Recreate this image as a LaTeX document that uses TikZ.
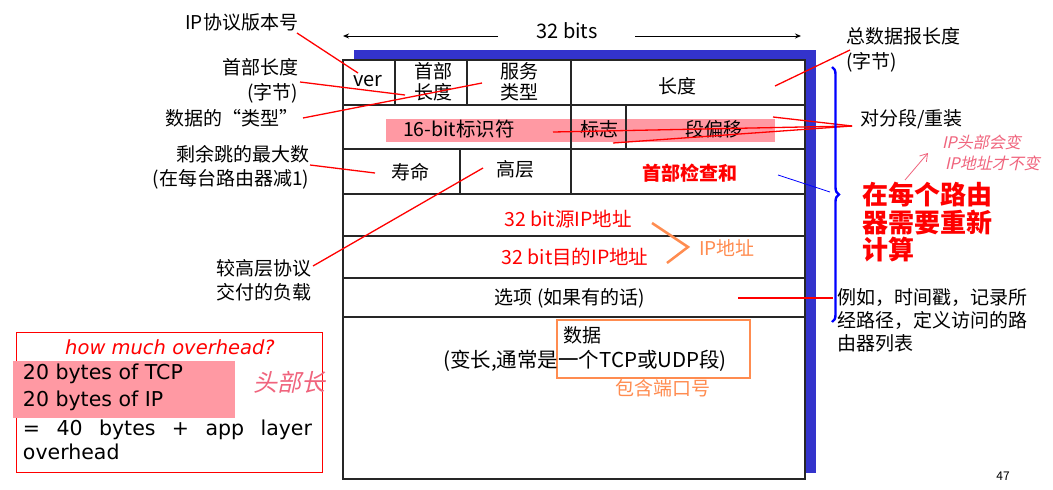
\documentclass[tikz,border=0pt]{standalone}
\usepackage{fontspec}
\setmainfont{Noto Sans CJK SC}
\newfontfamily\slantfont[FakeSlant=0.22]{Noto Sans CJK SC}
\newfontfamily\latinfont{DejaVu Sans}
\usetikzlibrary{decorations.pathreplacing,arrows.meta}

\definecolor{shadowblue}{RGB}{51,51,204}
\definecolor{hlpink}{RGB}{255,153,163}
\definecolor{tagorange}{RGB}{255,140,80}
\definecolor{inkpink}{RGB}{240,100,125}
\definecolor{bracecol}{RGB}{0,0,255}

\begin{document}
\begin{tikzpicture}[x=1pt,y=-1pt,
  every node/.style={inner sep=0pt, outer sep=0pt},
  lbl/.style={font=\fontsize{19}{25}\selectfont, text=black},
  cell/.style={font=\fontsize{19}{22}\selectfont, text=black},
  redcell/.style={font=\fontsize{19.5}{22}\selectfont, text=red},
  grid/.style={line width=1.5pt, black!85},
  pointer/.style={red, line width=1.3pt},
  ink/.style={text=inkpink, font=\slantfont\fontsize{16}{21}\selectfont},
  engl/.style={font=\latinfont\fontsize{20.5}{24}\selectfont, text=black, anchor=west},
]
\useasboundingbox (0,0) rectangle (1053,490);
\fill[white] (0,0) rectangle (1053,490);

% ---------- 32 bits width marker ----------
\node[font=\fontsize{20}{24}\selectfont] (bits) at (567,31) {32 bits};
\coordinate (bitsL1) at (498,36); \coordinate (bitsL2) at (343,36);
\coordinate (bitsR1) at (635,36); \coordinate (bitsR2) at (801,36);
\draw[line width=1pt, -{Stealth[length=6pt,width=5pt]}] (bitsL1) -- (bitsL2);
\draw[line width=1pt, -{Stealth[length=6pt,width=5pt]}] (bitsR1) -- (bitsR2);

% ---------- header table with its blue shadow ----------
\fill[shadowblue] (354,50) rectangle (816,473);
\fill[white] (343,60) rectangle (805,479);
\fill[hlpink] (386,119) rectangle (775,142);
\draw[grid] (343,60) rectangle (805,479);
\draw[grid] (343,105) -- (805,105);
\draw[grid] (343,149) -- (805,149);
\draw[grid] (343,194) -- (805,194);
\draw[grid] (343,236) -- (805,236);
\draw[grid] (343,278) -- (805,278);
\draw[grid] (343,317) -- (805,317);
\draw[grid] (395,60) -- (395,105);
\draw[grid] (467,60) -- (467,105);
\draw[grid] (571,60) -- (571,194);
\draw[grid] (626,105) -- (626,149);
\draw[grid] (460,149) -- (460,194);

% row 1
\node[cell, font=\fontsize{20}{22}\selectfont] (ver) at (368,81) {ver};
\node[cell, align=center, font=\fontsize{19}{21}\selectfont] (hlen) at (433,82) {首部\\长度};
\node[cell, align=center, font=\fontsize{19}{21}\selectfont] (tos) at (519,82) {服务\\类型};
\node[cell] (len) at (677,86) {长度};
% row 2
\node[cell, font=\fontsize{19.5}{22}\selectfont] (ident) at (459,129) {16-bit标识符};
\node[cell] (flags) at (599,129) {标志};
\node[cell] (frag) at (714,129) {段偏移};
% row 3
\node[cell] (ttl) at (410,172) {寿命};
\node[cell] (proto) at (515,169) {高层};
\node[redcell, font=\bfseries\fontsize{19}{22}\selectfont] (csum) at (690,173) {首部检查和};
% addresses
\node[redcell] (src) at (568,219) {32 bit源IP地址};
\node[redcell] (dst) at (575,257) {32 bit目的IP地址};
\draw[tagorange, line width=2.5pt, line join=miter] (652,223) -- (688,247) -- (667,263);
\node[font=\fontsize{19}{22}\selectfont, text=tagorange] (ipaddr) at (727,248) {IP地址};
% options
\node[cell] (opts) at (570,298) {选项 (如果有的话)};
% data
\draw[tagorange, line width=2.2pt] (557,320) rectangle (750,378);
\node[cell, anchor=west] (data) at (563,335) {数据};
\node[cell, font=\fontsize{20.5}{22}\selectfont] (datanote) at (585,361) {(变长,通常是一个TCP或UDP段)};
\node[font=\fontsize{19}{22}\selectfont, text=tagorange] (ports) at (663,388) {包含端口号};

% ---------- left-hand labels ----------
\node[lbl, anchor=east] (verlbl) at (298,22) {IP协议版本号};
\node[lbl, anchor=east, align=right] (hlenlbl) at (298,81) {首部长度\\(字节)};
\node[lbl, anchor=east] (toslbl) at (298,118) {数据的“类型"};
\node[lbl, anchor=east, align=right, font=\fontsize{19}{24}\selectfont] (ttllbl) at (309,167) {剩余跳的最大数\\(在每台路由器减1)};
\node[lbl, anchor=east, align=right, font=\fontsize{19}{24}\selectfont] (protolbl) at (311,280) {较高层协议\\交付的负载};

\coordinate (verA) at (297,33);   \coordinate (verB) at (358,73);
\coordinate (hlenA) at (300,82);  \coordinate (hlenB) at (405,95);
\coordinate (tosA) at (303,118);  \coordinate (tosB) at (482,83);
\coordinate (ttlA) at (310,165);  \coordinate (ttlB) at (375,173);
\coordinate (protoA) at (313,266);\coordinate (protoB) at (483,168);
\draw[pointer] (verA) -- (verB);
\draw[pointer] (hlenA) -- (hlenB);
\draw[pointer] (tosA) -- (tosB);
\draw[pointer] (ttlA) -- (ttlB);
\draw[pointer] (protoA) -- (protoB);

% ---------- right-hand labels ----------
\node[lbl, anchor=west, align=left] (lenlbl) at (846,49.5) {总数据报长度\\(字节)};
\node[lbl, anchor=west] (fraglbl) at (860,119) {对分段/重装};
\node[lbl, anchor=west, align=left, font=\fontsize{19}{23}\selectfont] (optlbl) at (837,320) {例如，时间戳，记录所\\经路径，定义访问的路\\由器列表};
\node[anchor=west, align=left, text=red, font=\bfseries\fontsize{26}{27.5}\selectfont] (recalc) at (862,222.5) {在每个路由\\器需要重新\\计算};

\coordinate (lenA) at (850,50);   \coordinate (lenB) at (775,86);
\coordinate (fragA) at (852,126);
\coordinate (fragB1) at (773,117); \coordinate (fragB2) at (553,132); \coordinate (fragB3) at (613,143);
\coordinate (optA) at (738,298);  \coordinate (optB) at (833,298);
\draw[pointer] (lenA) -- (lenB);
\draw[pointer] (fragA) -- (fragB1);
\draw[pointer] (fragA) -- (fragB2);
\draw[pointer] (fragA) -- (fragB3);
\draw[pointer] (optA) -- (optB);

% brace over the fields recomputed hop by hop
\coordinate (braceTop) at (832,67); \coordinate (braceBot) at (832,322);
\draw[bracecol, line width=2.4pt, decorate, decoration={brace, amplitude=7pt}] (braceTop) -- (braceBot);
\coordinate (csumA) at (778,175); \coordinate (csumB) at (830,192);
\draw[bracecol, line width=0.8pt] (csumA) -- (csumB);

% handwritten notes
\node[ink, anchor=west] (note1) at (942,142) {IP头部会变};
\node[ink, anchor=west] (note2) at (945,163) {IP地址才不变};
\coordinate (inkA) at (905,180); \coordinate (inkB) at (928,153);
\draw[inkpink, line width=0.8pt, -{Straight Barb[length=7pt,width=9pt]}] (inkA) -- (inkB);

% ---------- overhead box ----------
\draw[red, line width=0.8pt] (16,332) rectangle (322,472);
\fill[hlpink] (13,361) rectangle (235,418);
\node[text=red, font=\latinfont\itshape\fontsize{19.5}{22}\selectfont] (ovq) at (170,347) {how much overhead?};
\node[engl] (tcp) at (23,374) {20 bytes of TCP};
\node[engl] (ip) at (23,401) {20 bytes of IP};
\node[engl] (sum) at (23,430) {\makebox[289pt][s]{= 40 bytes + app layer}};
\node[engl] (sum2) at (23,452) {overhead};
\node[text=inkpink, font=\slantfont\fontsize{24}{26}\selectfont] (hdrnote) at (289,382) {头部长};

% page number
\node[font=\fontsize{12}{14}\selectfont] (page) at (1003,476) {47};
\end{tikzpicture}
\end{document}
